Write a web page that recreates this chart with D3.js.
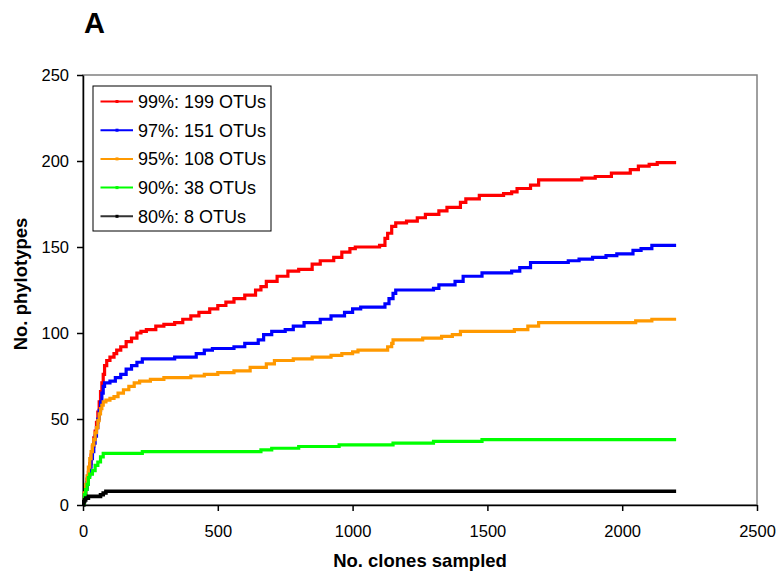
<!DOCTYPE html>
<html>
<head>
<meta charset="utf-8">
<script src="https://cdn.jsdelivr.net/npm/d3@7"></script>
<style>
  body { margin: 0; background: #fff; }
  svg { display: block; font-family: "Liberation Sans", Arial, sans-serif; }
  .axis path, .axis line { stroke: #000; stroke-width: 1.5; }
  .axis text { font-size: 16.5px; fill: #000; }
</style>
</head>
<body>
<div id="chart"></div>
<script>

// rarefaction curves, [clones sampled, phylotypes]

var seriesNames = ["99%: 199 OTUs", "97%: 151 OTUs", "95%: 108 OTUs", "90%: 38 OTUs", "80%: 8 OTUs"];
var seriesColors = ["#ff0000", "#0000ff", "#ff9900", "#00ff00", "#000000"];

var red99 = [[0,1],[5,6],[10,10],[15,15],[20,19],[25,24],[30,29],[35,34],[40,39],[45,43],[50,48],[55,54],[60,60],[65,66],[70,71],[75,76],[80,81],[88,84],[100,86],[115,88],[125,90],[140,92],[160,95],[180,97],[200,100],[215,101],[235,102],[270,104],[300,105],[340,106],[370,108],[400,110],[430,112],[470,114],[500,116],[530,118],[560,120],[600,122],[640,125],[660,127],[680,130],[720,133],[760,136],[800,137],[850,140],[880,142],[930,144],[960,147],[990,149],[1010,150],[1100,151],[1120,155],[1130,158],[1145,162],[1160,164],[1200,165],[1240,167],[1270,169],[1320,171],[1350,173],[1400,176],[1420,178],[1470,180],[1560,181],[1590,182],[1610,184],[1660,186],[1690,189],[1850,190],[1900,191],[1960,193],[2030,195],[2060,197],[2100,198],[2130,199],[2200,199]];

var blue97 = [[0,1],[5,5],[10,9],[15,13],[20,17],[25,22],[30,27],[35,31],[40,36],[45,40],[50,45],[55,50],[60,55],[65,60],[70,65],[75,69],[80,71],[100,72],[120,74],[140,76],[160,79],[180,81],[200,83],[220,85],[300,85],[340,86],[420,88],[450,90],[480,91],[560,92],[600,94],[650,96],[670,99],[700,101],[750,102],[780,104],[820,106],[880,108],[920,110],[970,112],[1000,114],[1030,115],[1120,117],[1135,120],[1150,123],[1160,125],[1300,126],[1320,128],[1380,130],[1410,133],[1480,135],[1590,136],[1620,138],[1660,141],[1800,142],[1840,143],[1890,144],[1940,145],[1980,146],[2040,148],[2070,149],[2110,151],[2200,151]];

var orange95 = [[0,2],[5,7],[10,12],[15,17],[20,22],[25,27],[30,31],[35,35],[40,38],[45,42],[50,45],[55,49],[60,53],[65,56],[70,58],[75,60],[85,61],[100,62],[115,63],[130,65],[150,67],[170,69],[190,71],[210,72],[250,73],[300,74],[400,75],[450,76],[500,77],[560,78],[620,80],[680,82],[710,84],[780,85],[850,86],[920,87],[960,88],[1000,89],[1020,90],[1130,92],[1145,94],[1150,96],[1260,97],[1330,98],[1370,99],[1400,101],[1600,102],[1650,104],[1690,106],[2050,107],[2110,108],[2200,108]];

var green90 = [[0,1],[5,6],[10,9],[15,12],[20,16],[25,18],[35,20],[45,23],[55,25],[65,28],[75,30],[220,31],[660,32],[700,33],[800,34],[950,35],[1150,36],[1300,37],[1480,38],[2200,38]];

var black80 = [[0,0],[3,2],[6,3],[10,4],[20,5],[65,6],[75,7],[85,8],[2200,8]];

var seriesData = [red99, blue97, orange95, green90, black80];

var xTicks = [0, 500, 1000, 1500, 2000, 2500];
var yTicks = [0, 50, 100, 150, 200, 250];

// size of the page and the plot area

var width = 780, height = 573;
var margin = {top: 75, right: 23, bottom: 68, left: 83};
var plotW = width - margin.left - margin.right;
var plotH = height - margin.top - margin.bottom;

var xScale = d3.scaleLinear()
  .domain([0, 2500])
  .range([0, plotW]);

var yScale = d3.scaleLinear()
  .domain([0, 250])
  .range([plotH, 0]);

var line = d3.line()
  .x(function(d) { return xScale(d[0]); })
  .y(function(d) { return yScale(d[1]); })
  .curve(d3.curveStepAfter);

var svg = d3.select("#chart").append("svg")
  .attr("width", width)
  .attr("height", height);

var g = svg.append("g")
  .attr("transform", "translate(" + margin.left + "," + margin.top + ")");

// plot area frame (top and right)
g.append("rect")
  .attr("x", 0)
  .attr("y", 0)
  .attr("width", plotW)
  .attr("height", plotH)
  .attr("fill", "none")
  .attr("stroke", "#808080")
  .attr("stroke-width", 1.5);

// axes
var xAxis = g.append("g")
  .attr("class", "axis")
  .attr("transform", "translate(0," + plotH + ")")
  .call(d3.axisBottom(xScale).tickValues(xTicks).tickFormat(d3.format("d")).tickSize(6).tickPadding(14).tickSizeOuter(0));

var yAxis = g.append("g")
  .attr("class", "axis")
  .call(d3.axisLeft(yScale).tickValues(yTicks).tickFormat(d3.format("d")).tickSize(6).tickPadding(8).tickSizeOuter(0));

// curves, black drawn last so it sits on top
g.selectAll(".curve")
  .data(seriesData)
  .enter().append("path")
  .attr("class", "curve")
  .attr("d", line)
  .attr("fill", "none")
  .attr("stroke", function(d, i) { return seriesColors[i]; })
  .attr("stroke-width", function(d, i) { return i == 4 ? 3.6 : 3.2; })
  .attr("stroke-linejoin", "miter");

// legend
var legend = svg.append("g")
  .attr("transform", "translate(93,86)");

legend.append("rect")
  .attr("width", 178)
  .attr("height", 145)
  .attr("fill", "#fff")
  .attr("stroke", "#000")
  .attr("stroke-width", 1);

var rows = legend.selectAll(".row")
  .data(seriesNames)
  .enter().append("g")
  .attr("class", "row")
  .attr("transform", function(d, i) { return "translate(0," + (15.5 + i * 28.7) + ")"; });

rows.append("line")
  .attr("x1", 7.5)
  .attr("x2", 40)
  .attr("stroke", function(d, i) { return i == 4 ? "#333" : seriesColors[i]; })
  .attr("stroke-width", 2);

rows.append("rect")
  .attr("x", 22.5)
  .attr("y", -1.5)
  .attr("width", 3)
  .attr("height", 3)
  .attr("fill", function(d, i) { return seriesColors[i]; });

rows.append("text")
  .attr("x", 45)
  .attr("dy", "0.35em")
  .style("font-size", "18px")
  .text(function(d) { return d; });

// titles
svg.append("text")
  .attr("x", 84)
  .attr("y", 33)
  .style("font-size", "29px")
  .style("font-weight", "bold")
  .text("A");

svg.append("text")
  .attr("x", margin.left + plotW / 2)
  .attr("y", 567)
  .attr("text-anchor", "middle")
  .style("font-size", "18.5px")
  .style("font-weight", "bold")
  .text("No. clones sampled");

svg.append("text")
  .attr("transform", "translate(27,284) rotate(-90)")
  .attr("text-anchor", "middle")
  .style("font-size", "18.5px")
  .style("font-weight", "bold")
  .text("No. phylotypes");

</script>
</body>
</html>
